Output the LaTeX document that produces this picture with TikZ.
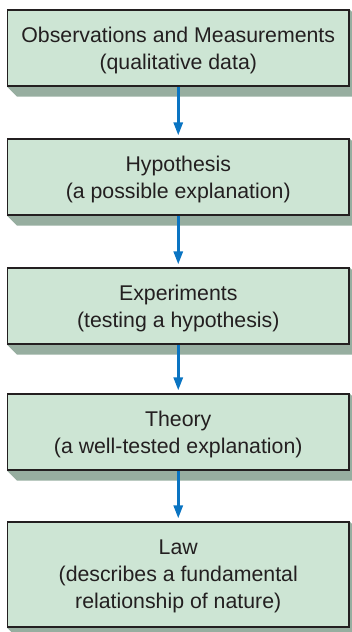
\documentclass[tikz,border=0pt]{standalone}
\usepackage{fontspec}
\setmainfont{Liberation Sans}
\usetikzlibrary{arrows.meta,backgrounds}
\definecolor{mintfill}{RGB}{205,229,212}
\definecolor{mintshadow}{RGB}{151,174,160}
\definecolor{arrowblue}{RGB}{10,116,194}
\definecolor{inkgray}{RGB}{35,31,32}

\tikzset{
  stagebox/.style={draw=inkgray, line width=1.2pt, fill=mintfill,
    minimum width=341.5pt, minimum height=76pt, inner sep=0pt, text depth=0pt,
    align=center, text=inkgray, font=\fontsize{21.3}{27}\selectfont},
  flow/.style={arrowblue, line width=2.8pt,
    -{Triangle[width=9pt,length=13pt]}, shorten >=3pt}
}

\begin{document}
\begin{tikzpicture}[x=1pt,y=-1pt]
  \useasboundingbox (0,0) rectangle (352,632);
  % the five stages, top to bottom
  \node[stagebox] (obs) at (178.25, 48)  {Observations and Measurements\\(qualitative data)};
  \node[stagebox] (hyp) at (178.25, 177) {Hypothesis\\(a possible explanation)};
  \node[stagebox] (exp) at (178.25, 306) {Experiments\\(testing a hypothesis)};
  \node[stagebox] (thy) at (178.25, 432) {Theory\\(a well-tested explanation)};
  \node[stagebox, minimum height=105pt] (law) at (178.25, 574.5)
       {Law\\(describes a fundamental\\relationship of nature)};
  % bevelled shadows
  \begin{scope}[on background layer]
    \foreach \n in {obs,hyp,exp,thy,law}
      \fill[mintshadow] (\n.south west) -- ++(10,10)
           -- ([shift={(10,10)}]\n.south east) -- ([shift={(10,10)}]\n.north east)
           -- (\n.north east) -- cycle;
  \end{scope}
  % connectors
  \draw[flow] (obs.south) -- (hyp.north);
  \draw[flow] (hyp.south) -- (exp.north);
  \draw[flow] (exp.south) -- (thy.north);
  \draw[flow] (thy.south) -- (law.north);
\end{tikzpicture}
\end{document}
